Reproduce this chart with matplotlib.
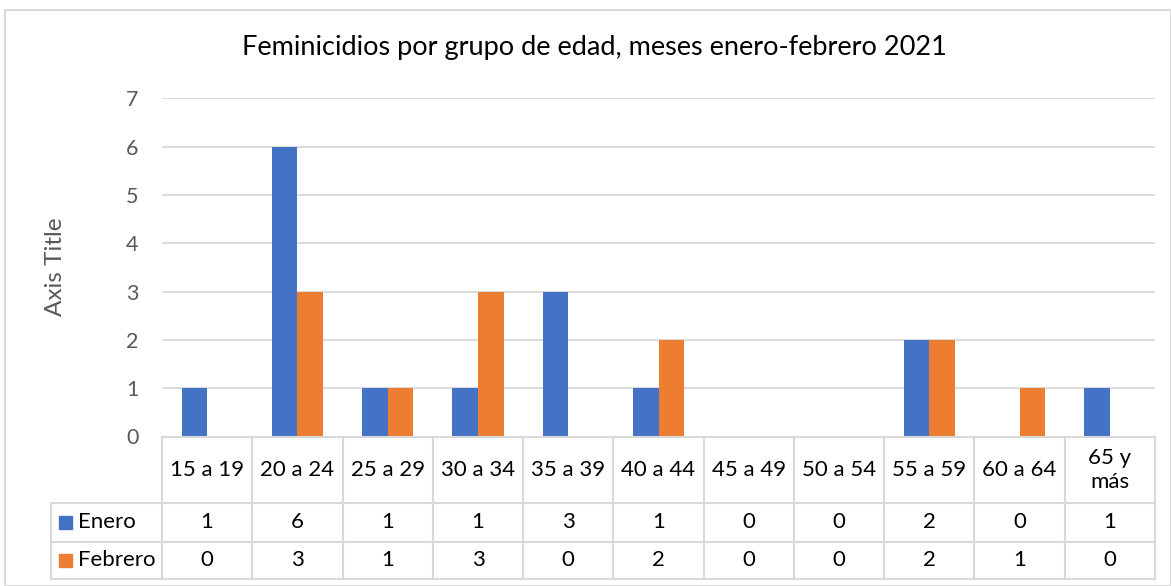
"""Feminicidios por grupo de edad: clustered bars with an Excel-style data table."""

import matplotlib
matplotlib.use("Agg")
import matplotlib.pyplot as plt
import numpy as np
from matplotlib.patches import Rectangle

categories = ["15 a 19", "20 a 24", "25 a 29", "30 a 34", "35 a 39", "40 a 44",
              "45 a 49", "50 a 54", "55 a 59", "60 a 64", "65 y\nmás"]
series_names = ["Enero", "Febrero"]
enero = [1, 6, 1, 1, 3, 1, 0, 0, 2, 0, 1]
febrero = [0, 3, 1, 3, 0, 2, 0, 0, 2, 1, 0]
y_ticks = [0, 1, 2, 3, 4, 5, 6, 7]

colors = ["#4472C4", "#ED7D31"]
grid_c = "#D9D9D9"
W, H = 1171, 586
fs = 16

plt.rcParams["font.family"] = ["Lato", "DejaVu Sans"]

fig = plt.figure(figsize=(W / 100, H / 100), dpi=100)

# pixel helpers
x0, x1 = 162, 1155
y_top, y_zero = 98.3, 436.5
ax = fig.add_axes([x0 / W, (H - y_zero) / H, (x1 - x0) / W, (y_zero - y_top) / H])

n = len(categories)
x = np.arange(n)
bw = 0.283
ax.bar(x - bw / 2, enero, width=bw, color=colors[0], zorder=3)
ax.bar(x + bw / 2, febrero, width=bw, color=colors[1], zorder=3)

ax.set_xlim(-0.5, n - 0.5)
ax.set_ylim(0, 7)
ax.set_yticks(y_ticks)
ax.yaxis.grid(True, color=grid_c, linewidth=1.3, zorder=0)
ax.set_xticks([])
ax.tick_params(axis="y", length=0, pad=17, labelsize=15.5, labelcolor="#595959")
for s in ax.spines.values():
    s.set_visible(False)
ax.set_ylabel("Axis Title", fontsize=17.5, color="#595959", va="center")
ax.yaxis.set_label_coords((56 - x0) / (x1 - x0), (y_zero - 267) / (y_zero - y_top))

fig.text(594.5 / W, 1 - 48 / H, "Feminicidios por grupo de edad, meses enero-febrero 2021",
         ha="center", va="center", fontsize=19.5, color="#000000")

# data table below the plot, in pixel-height units
t_bottom = 579
tab = fig.add_axes([x0 / W, (H - t_bottom) / H, (x1 - x0) / W, (t_bottom - y_zero) / H])
tab.set_xlim(-0.5, n - 0.5)
tab.set_ylim(t_bottom - y_zero, 0)
tab.axis("off")
col_w = (x1 - x0) / n
left = -0.5 - (x0 - 51) / col_w
rows = [0, 503 - y_zero, 542 - y_zero, t_bottom - y_zero]
lw = 1.5
kw = dict(color=grid_c, linewidth=lw, clip_on=False)

tab.plot([-0.5, n - 0.5], [rows[0], rows[0]], **kw)
for r in rows[1:]:
    tab.plot([left, n - 0.5], [r, r], **kw)
for i in range(n + 1):
    tab.plot([i - 0.5, i - 0.5], [rows[0], rows[3]], **kw)
tab.plot([left, left], [rows[1], rows[3]], **kw)

for i, c in enumerate(categories):
    tab.text(i, (rows[0] + rows[1]) / 2, c, ha="center", va="center",
             fontsize=fs, color="#000000", linespacing=1.25, clip_on=False)

for k, (name, vals) in enumerate(zip(series_names, [enero, febrero])):
    yc = (rows[k + 1] + rows[k + 2]) / 2
    key_w = 13 / col_w
    tab.add_patch(Rectangle((left + 8 / col_w, yc - 6.5), key_w, 13,
                            color=colors[k], clip_on=False))
    tab.text(left + 27 / col_w, yc, name, ha="left", va="center",
             fontsize=fs, color="#000000", clip_on=False)
    for i, v in enumerate(vals):
        tab.text(i, yc, str(v), ha="center", va="center",
                 fontsize=fs, color="#000000", clip_on=False)

# chart area border
fig.patches.append(Rectangle((5.5 / W, 0), (W - 5.5) / W, (H - 9.5) / H,
                             transform=fig.transFigure, fill=False,
                             edgecolor=grid_c, linewidth=1.5))

fig.savefig("out.png", dpi=100)
